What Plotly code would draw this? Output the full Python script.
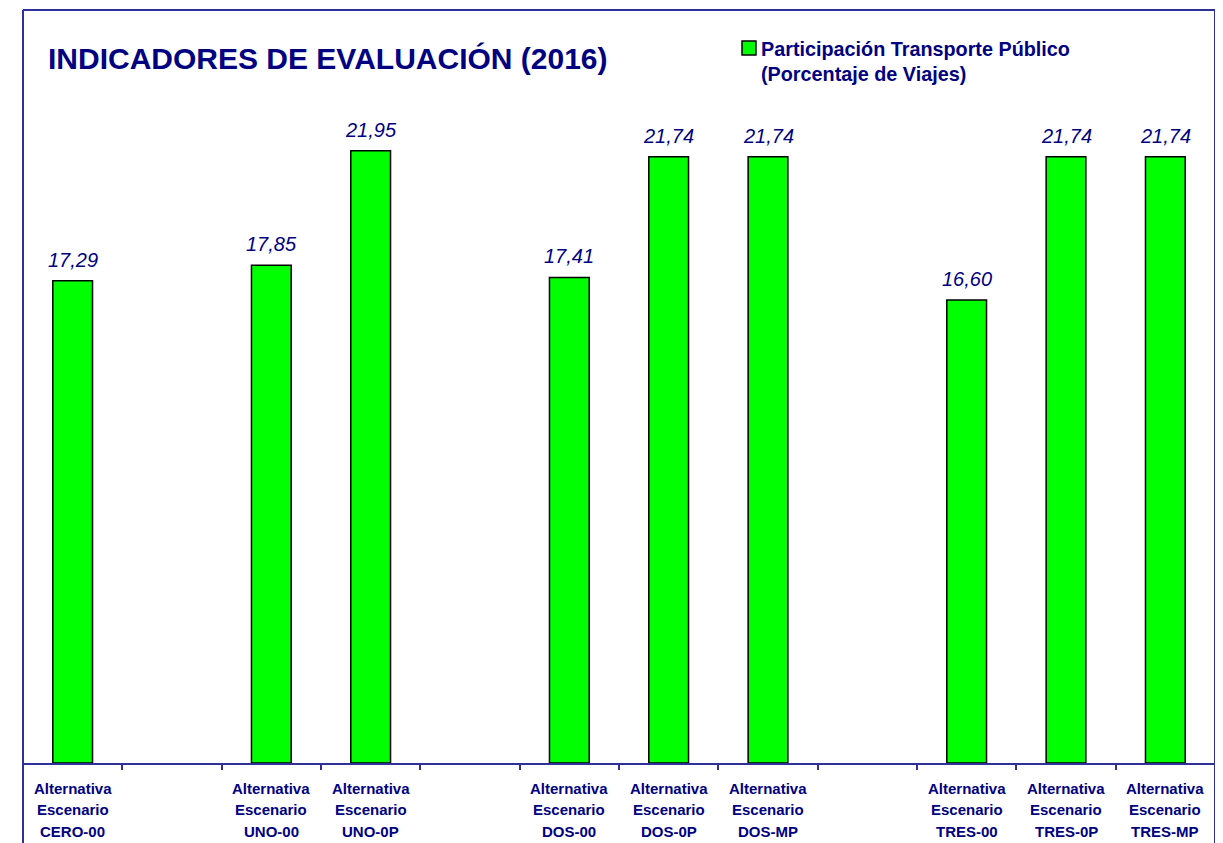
import plotly.graph_objects as go

# categorías del eje (las vacías dejan hueco entre grupos)
categorias = [
    "Alternativa<br>Escenario<br>CERO-00",
    " ",
    "Alternativa<br>Escenario<br>UNO-00",
    "Alternativa<br>Escenario<br>UNO-0P",
    "  ",
    "Alternativa<br>Escenario<br>DOS-00",
    "Alternativa<br>Escenario<br>DOS-0P",
    "Alternativa<br>Escenario<br>DOS-MP",
    "   ",
    "Alternativa<br>Escenario<br>TRES-00",
    "Alternativa<br>Escenario<br>TRES-0P",
    "Alternativa<br>Escenario<br>TRES-MP",
]

# escenarios con dato
escenarios = [
    "Alternativa<br>Escenario<br>CERO-00",
    "Alternativa<br>Escenario<br>UNO-00",
    "Alternativa<br>Escenario<br>UNO-0P",
    "Alternativa<br>Escenario<br>DOS-00",
    "Alternativa<br>Escenario<br>DOS-0P",
    "Alternativa<br>Escenario<br>DOS-MP",
    "Alternativa<br>Escenario<br>TRES-00",
    "Alternativa<br>Escenario<br>TRES-0P",
    "Alternativa<br>Escenario<br>TRES-MP",
]
participacion = [17.29, 17.85, 21.95, 17.41, 21.74, 21.74, 16.60, 21.74, 21.74]

navy = "#000080"
marco = "#30309a"
fuente = "Liberation Sans, Arial"

fig = go.Figure()

fig.add_trace(
    go.Bar(
        x=escenarios,
        y=participacion,
        width=0.4,
        marker=dict(color="#00ff00", line=dict(color="black", width=1.5)),
        name="Participación Transporte Público",
        showlegend=False,
    )
)

# etiquetas de valor sobre cada barra (coma decimal)
for esc, val in zip(escenarios, participacion):
    fig.add_annotation(
        x=esc, y=val, text=f"<i>{val:.2f}</i>".replace(".", ","),
        xref="x", yref="y", yanchor="bottom", yshift=8, showarrow=False,
        font=dict(family=fuente, size=20, color=navy),
    )

# etiquetas del eje x, una línea por anotación para ajustar el interlineado
for esc in escenarios:
    for i, linea in enumerate(esc.split("<br>")):
        fig.add_annotation(
            x=esc, y=0, text=f"<b>{linea}</b>",
            xref="x", yref="paper", yanchor="middle", yshift=-(25 + 21.5 * i),
            showarrow=False,
            font=dict(family=fuente, size=15, color=navy),
        )

# título
fig.add_annotation(
    text="<b>INDICADORES DE EVALUACIÓN (2016)</b>",
    xref="paper", yref="paper", x=0.0193, y=0.936,
    xanchor="left", yanchor="middle", showarrow=False,
    font=dict(family=fuente, size=30, color=navy),
)

# leyenda manual
fig.add_shape(
    type="rect", xref="paper", yref="paper",
    x0=0.6032, x1=0.6149, y0=0.9402, y1=0.9588,
    fillcolor="#00ff00", line=dict(color="black", width=1.5),
)
fig.add_annotation(
    text="<b>Participación Transporte Público</b>",
    xref="paper", yref="paper", x=0.6174, y=0.9482,
    xanchor="left", yanchor="middle", showarrow=False,
    font=dict(family=fuente, size=19.8, color=navy),
)
fig.add_annotation(
    text="<b>(Porcentaje de Viajes)</b>",
    xref="paper", yref="paper", x=0.6174, y=0.9150,
    xanchor="left", yanchor="middle", showarrow=False,
    font=dict(family=fuente, size=19.8, color=navy),
)

# marco del gráfico
for x0, y0, x1, y1 in [(0, -0.2, 0, 1), (0, 1, 1, 1), (1, -0.2, 1, 1)]:
    fig.add_shape(
        type="line", xref="paper", yref="paper",
        x0=x0, y0=y0, x1=x1, y1=y1,
        line=dict(color=marco, width=2),
    )

# la página añade 8px de margen al body, se compensa aquí
fig.update_layout(
    width=1215,
    height=835,
    margin=dict(l=15, r=8, t=2, b=80),
    plot_bgcolor="white",
    paper_bgcolor="white",
    showlegend=False,
)

fig.update_xaxes(
    type="category",
    categoryorder="array",
    categoryarray=categorias,
    range=[-0.5, 11.5],
    showline=True,
    linecolor=marco,
    linewidth=2,
    ticks="outside",
    tickson="boundaries",
    ticklen=5,
    tickcolor=marco,
    tickwidth=2,
    showticklabels=False,
    showgrid=False,
)
fig.update_yaxes(visible=False, range=[0, 27])

fig.write_html("out.html")
